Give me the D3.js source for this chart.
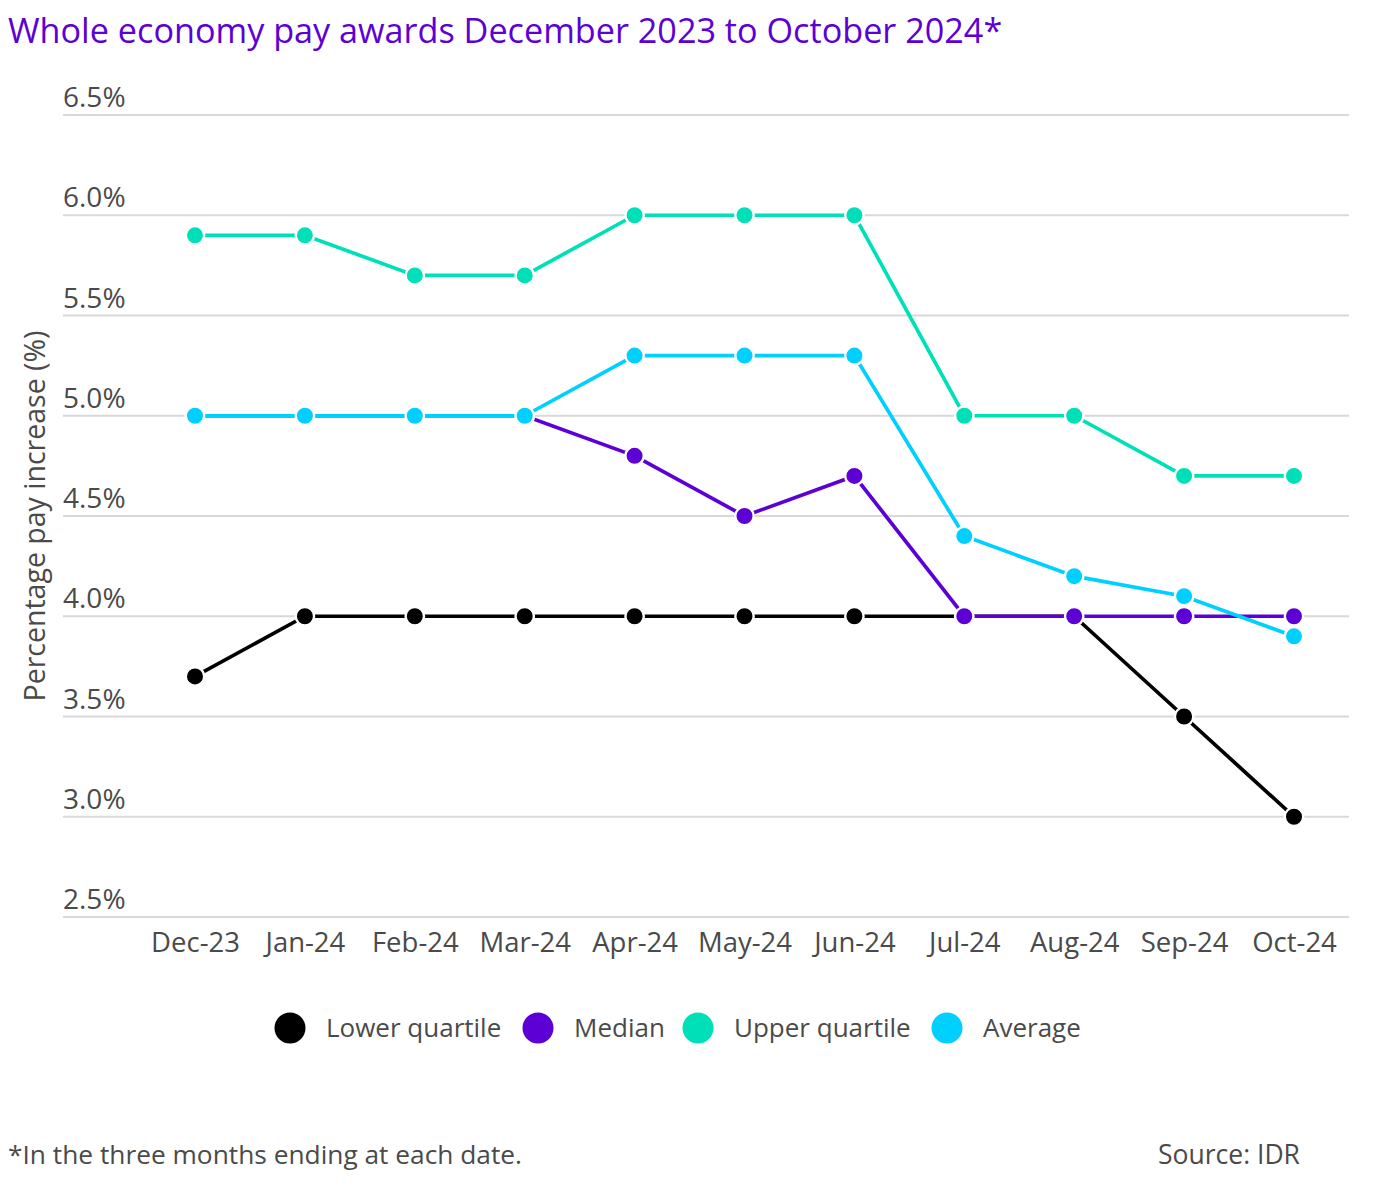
<!DOCTYPE html>
<html>
<head>
<meta charset="utf-8">
<script src="https://cdn.jsdelivr.net/npm/d3@7"></script>
<style>
  body { margin: 0; background: #fff; }
  svg { display: block; font-family: "Open Sans", "Noto Sans", sans-serif; }
</style>
</head>
<body>
<svg id="chart" width="1379" height="1194"></svg>
<script>
const months = ["Dec-23","Jan-24","Feb-24","Mar-24","Apr-24","May-24","Jun-24","Jul-24","Aug-24","Sep-24","Oct-24"];
const lowerQuartile = [3.7,4.0,4.0,4.0,4.0,4.0,4.0,4.0,4.0,3.5,3.0];
const median        = [5.0,5.0,5.0,5.0,4.8,4.5,4.7,4.0,4.0,4.0,4.0];
const upperQuartile = [5.9,5.9,5.7,5.7,6.0,6.0,6.0,5.0,5.0,4.7,4.7];
const average       = [5.0,5.0,5.0,5.0,5.3,5.3,5.3,4.4,4.2,4.1,3.9];
const yTicks = [2.5,3.0,3.5,4.0,4.5,5.0,5.5,6.0,6.5];
const seriesNames = ["Lower quartile","Median","Upper quartile","Average"];
const seriesColors = ["#000000","#5c00d6","#00e0b8","#00d0ff"];
const seriesValues = [lowerQuartile, median, upperQuartile, average];

const svg = d3.select("#chart");
const gridLeft = 63, gridRight = 1349;
const FONT = "'Open Sans', 'Noto Sans', sans-serif";
const textColor = "#4a4a4a";

const x = d3.scalePoint().domain(months).range([195, 1294]);
const y = d3.scaleLinear().domain([2.5, 6.5]).range([917, 115]);

// title
svg.append("text").attr("x", 8).attr("y", 43)
  .attr("fill", "#5c00d6").attr("font-size", 34.2)
  .text("Whole economy pay awards December 2023 to October 2024*");

// grid + y labels
const yAxis = d3.axisLeft(y).tickValues(yTicks).tickSize(0).tickFormat(d => d.toFixed(1) + "%");
const gy = svg.append("g");
gy.selectAll("line.grid").data(yTicks).join("line")
  .attr("x1", gridLeft).attr("x2", gridRight)
  .attr("y1", d => y(d)).attr("y2", d => y(d))
  .attr("stroke", "#d9d9d9").attr("stroke-width", 2);
gy.selectAll("text.yl").data(yTicks).join("text")
  .attr("x", gridLeft).attr("y", d => y(d) - 8)
  .attr("fill", textColor).attr("font-size", 28)
  .text(d => yAxis.tickFormat()(d));

// x labels via axis
const gx = svg.append("g").attr("transform", "translate(0,917)")
  .call(d3.axisBottom(x).tickSize(0).tickPadding(15));
gx.select(".domain").remove();
gx.selectAll("text").attr("fill", textColor).attr("font-size", 27.5)
  .attr("font-family", FONT);

// y axis title
svg.append("text")
  .attr("transform", "translate(45,516) rotate(-90)")
  .attr("text-anchor", "middle").attr("fill", textColor).attr("font-size", 28.5)
  .text("Percentage pay increase (%)");

// lines
const line = d3.line().x((d, i) => x(months[i])).y(d => y(d));
seriesValues.forEach((vals, si) => {
  const g = svg.append("g");
  g.append("path").datum(vals).attr("d", line)
    .attr("fill", "none").attr("stroke", seriesColors[si]).attr("stroke-width", 3.7);
  g.selectAll("circle").data(vals).join("circle")
    .attr("cx", (d, i) => x(months[i])).attr("cy", d => y(d)).attr("r", 9.2)
    .attr("fill", seriesColors[si]).attr("stroke", "#fff").attr("stroke-width", 2.4);
});

// legend
const legendX = [290, 538, 698, 947];
const lg = svg.append("g");
seriesNames.forEach((n, i) => {
  lg.append("circle").attr("cx", legendX[i]).attr("cy", 1028).attr("r", 15.5).attr("fill", seriesColors[i]);
  lg.append("text").attr("x", legendX[i] + 36).attr("y", 1037)
    .attr("fill", textColor).attr("font-size", 26).text(n);
});

// footnotes
svg.append("text").attr("x", 8).attr("y", 1164).attr("fill", textColor).attr("font-size", 26.3)
  .text("*In the three months ending at each date.");
svg.append("text").attr("x", 1158).attr("y", 1164).attr("fill", textColor).attr("font-size", 26.5)
  .text("Source: IDR");
</script>
</body>
</html>
